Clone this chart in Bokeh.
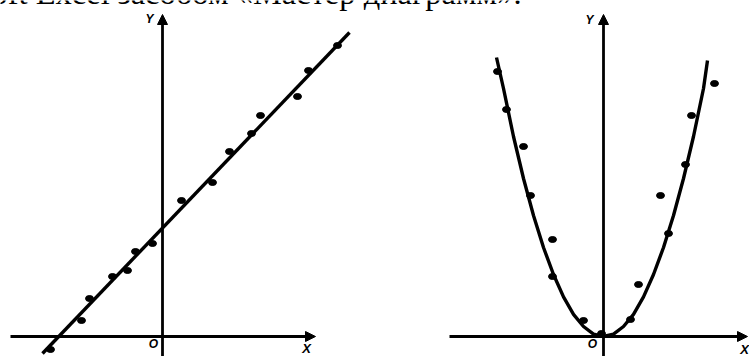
from bokeh.plotting import figure
from bokeh.models import Arrow, NormalHead, Label, Range1d
from bokeh.embed import file_html
from bokeh.resources import INLINE

# ---- data ----
caption = "Microsoft Excel засобом «Мастер диаграмм»."
axis_y_label = "Y"
axis_x_label = "X"
origin_label = "O"

# left chart: linear dependence
lin_x = [8.75, 7.3, 6.75, 4.9, 4.45, 3.35, 2.5, 0.95, -0.5, -1.35, -1.75, -2.5, -3.65, -4.05, -5.6]
lin_y = [14.55, 13.3, 12.0, 11.05, 10.15, 9.25, 7.7, 6.8, 4.65, 4.25, 3.3, 3.0, 1.9, 0.8, -0.65]
lin_fit_x = [-6.0, 9.35]
lin_fit_y = [-0.85, 15.2]

# right chart: quadratic dependence
par_x = [-5.3, -4.85, -4.0, -3.65, -2.55, -2.55, -1.0, -0.1, 1.35, 1.75, 2.85, 3.25, 4.1, 4.4, 5.55]
par_y = [13.25, 11.35, 9.5, 7.05, 4.85, 3.0, 0.8, 0.15, 0.85, 2.6, 7.05, 5.15, 8.6, 11.05, 12.65]
par_fit_x = [-5.35, -5.0, -4.5, -4.0, -3.5, -3.0, -2.5, -2.0, -1.5, -1.0, -0.5, 0.0,
             0.5, 1.0, 1.5, 2.0, 2.5, 3.0, 3.5, 4.0, 4.5, 5.0, 5.2]
par_fit_y = [13.95, 12.4, 10.0, 7.9, 6.05, 4.45, 3.1, 1.98, 1.11, 0.5, 0.12, 0.0,
             0.12, 0.5, 1.11, 1.98, 3.1, 4.45, 6.05, 7.9, 10.0, 12.4, 13.8]

# ---- layout ----
W, H = 749, 356
PX = 20.0                 # pixels per data unit
ORIG_L = (162, 336)       # origin of left chart on the canvas (px from top-left)
ORIG_R = (603, 336)       # origin of right chart

x_left = Range1d(-ORIG_L[0] / PX, (W - ORIG_L[0]) / PX)
x_right = Range1d(-ORIG_R[0] / PX, (W - ORIG_R[0]) / PX)
y_rng = Range1d(-(H - ORIG_L[1]) / PX, ORIG_L[1] / PX)

p = figure(width=W, height=H, output_backend="svg", toolbar_location=None,
           x_range=x_left, y_range=y_rng, x_axis_type=None, y_axis_type=None,
           min_border=0, background_fill_color="white", border_fill_color="white")
p.extra_x_ranges = {"right": x_right}
p.grid.visible = False
p.outline_line_color = None


def add_axes(rn, xa0, xa1, ya0, ya1):
    for xs, ys, xe, ye in ((xa0, 0, xa1, 0), (0, ya0, 0, ya1)):
        p.add_layout(Arrow(end=NormalHead(size=10, fill_color="black", line_color="black", line_width=1),
                           x_start=xs, y_start=ys, x_end=xe, y_end=ye, x_range_name=rn,
                           line_width=2.8, line_color="black"))


def add_labels(rn, yl, ol, xl):
    for (lx, ly), t, fs in ((yl, axis_y_label, "12px"), (ol, origin_label, "12px"), (xl, axis_x_label, "13px")):
        p.add_layout(Label(x=lx, y=ly, text=t, x_range_name=rn, text_font="Liberation Sans",
                           text_font_size=fs, text_font_style="bold italic", text_align="center",
                           text_baseline="middle", text_color="black"))


# left chart
add_axes("default", -7.6, 7.65, -1.2, 16.1)
p.line(lin_fit_x, lin_fit_y, line_width=3.4, line_color="black")
p.ellipse(lin_x, lin_y, width=8, height=6, width_units="screen", height_units="screen",
          fill_color="black", line_color="black")
add_labels("default", (-0.65, 15.9), (-0.45, -0.35), (7.2, -0.6))

# right chart
add_axes("right", -7.7, 7.2, -1.2, 16.1)
p.line(par_fit_x, par_fit_y, line_width=3.4, line_color="black", x_range_name="right")
p.ellipse(par_x, par_y, width=8, height=6, width_units="screen", height_units="screen",
          fill_color="black", line_color="black", x_range_name="right")
add_labels("right", (-0.7, 15.85), (-0.55, -0.35), (7.05, -0.65))

# caption fragment (the bottom of a text line above the charts)
p.add_layout(Label(x=521, y=H + 8, x_units="screen", y_units="screen",
                   text=caption, text_font="Liberation Serif", text_font_size="32.5px",
                   text_align="right", text_baseline="alphabetic", text_color="black"))

open("out.html", "w").write(file_html(p, INLINE))
